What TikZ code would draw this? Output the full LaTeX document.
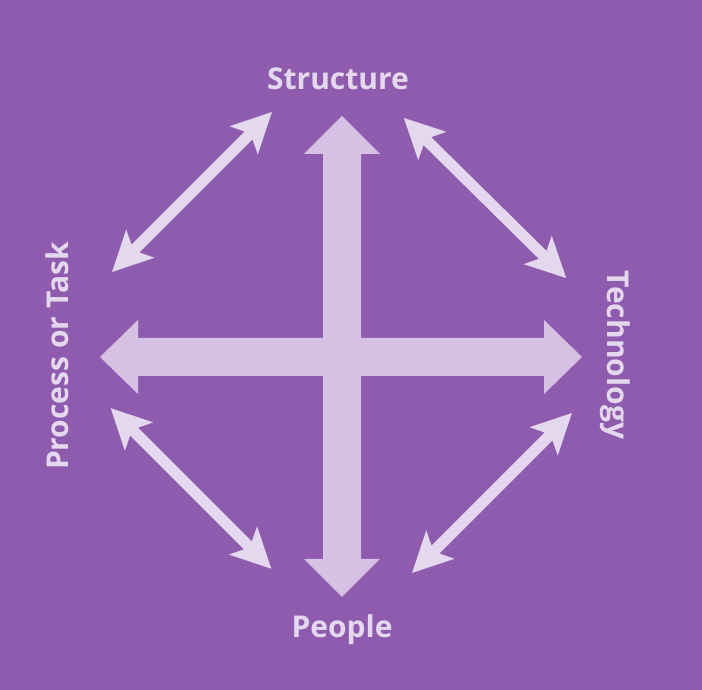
\documentclass[tikz,border=0pt]{standalone}
\usepackage{fontspec}
\setmainfont{Open Sans}
\definecolor{bgpurple}{HTML}{8F5BAF}
\definecolor{crossc}{HTML}{D5C1E4}
\definecolor{diagc}{HTML}{E4D8EE}
\tikzset{
  lbl/.style={text=diagc, font=\fontsize{30}{30}\selectfont\bfseries, inner sep=0pt, anchor=base},
  crossarrow/.style={fill=crossc, draw=none},
  diagarrow/.style={fill=diagc, draw=none}
}
\newcommand\dblarrow[3]{%
  \begin{scope}[shift={#1},rotate=#2]
    \fill[diagarrow] (-#3,0) -- ({-#3+40},20) -- ({-#3+33},5.5) -- ({#3-33},5.5) -- ({#3-40},20) -- (#3,0)
      -- ({#3-40},-20) -- ({#3-33},-5.5) -- ({-#3+33},-5.5) -- ({-#3+40},-20) -- cycle;
  \end{scope}}
\begin{document}
\begin{tikzpicture}[x=1pt,y=1pt]
  \fill[bgpurple] (0,0) rectangle (702,690);
  \useasboundingbox (0,0) rectangle (702,690);
  % central cross
  \fill[crossarrow] (342,574) -- (380,536) -- (361,536) -- (361,352) -- (544,352) -- (544,370)
    -- (582,333) -- (544,296) -- (544,314) -- (361,314) -- (361,131) -- (380,131) -- (342,93)
    -- (304,131) -- (323,131) -- (323,314) -- (138,314) -- (138,296) -- (100,333) -- (138,370)
    -- (138,352) -- (323,352) -- (323,536) -- (304,536) -- cycle;
  % diagonal double arrows
  \dblarrow{(192,498)}{45}{113}
  \dblarrow{(485,492)}{-44.6}{114}
  \dblarrow{(191,201.5)}{-45}{113.5}
  \dblarrow{(492,197)}{45}{113}
  % labels
  \node[lbl] (structure) at (338,600) {Structure};
  \node[lbl] (people) at (342,52.5) {People};
  \node[lbl, rotate=-90] (technology) at (607,335) {Technology};
  \node[lbl, rotate=90] (process) at (68,334) {Process or Task};
\end{tikzpicture}
\end{document}
